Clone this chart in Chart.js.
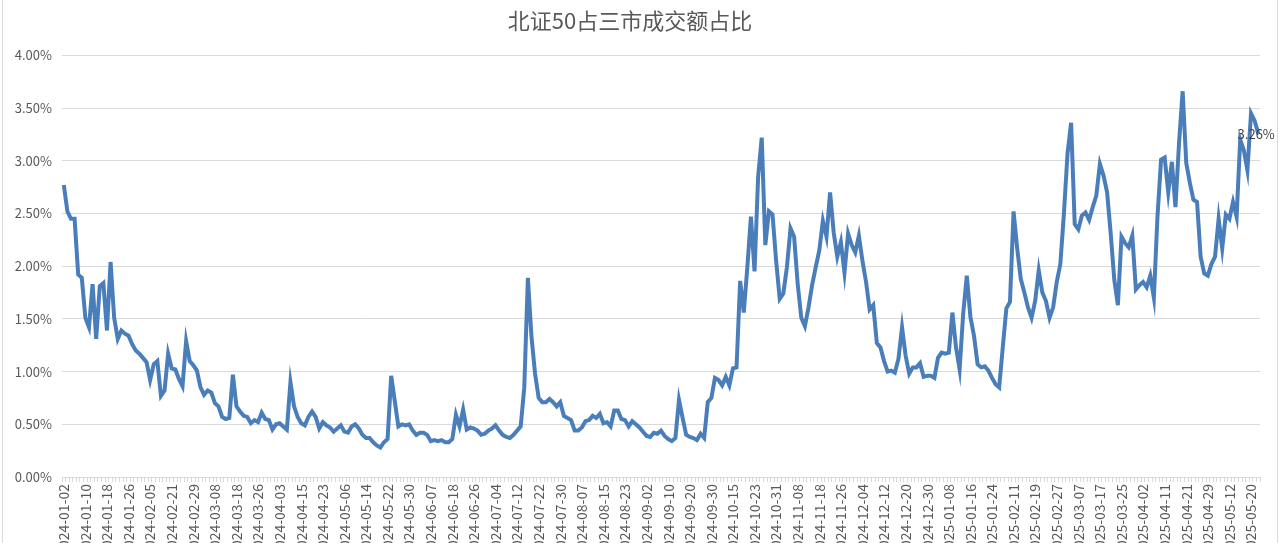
<!DOCTYPE html>
<html>
<head>
<meta charset="utf-8">
<title>北证50占三市成交额占比</title>
<script src="https://cdn.jsdelivr.net/npm/chart.js@4.4.1/dist/chart.umd.min.js"></script>
<style>
  html, body { margin: 0; padding: 0; background: #fff; overflow: hidden; }
  #frame { position: absolute; left: 2px; top: -2px; width: 1274px; height: 550px; border: 1px solid #d9d9d9; }
  #chart { position: absolute; left: 0; top: 0; }
</style>
</head>
<body>
<div id="frame"></div>
<canvas id="chart" width="1280" height="543"></canvas>
<script>
// trading calendar: weekdays from start to end, minus exchange holidays
const startDate = '2024-01-02';
const endDate = '2025-05-22';
const holidays = [
  '2024-01-01', '2024-02-09', '2024-02-12', '2024-02-13', '2024-02-14', '2024-02-15', '2024-02-16',
  '2024-04-04', '2024-04-05', '2024-05-01', '2024-05-02', '2024-05-03', '2024-06-10',
  '2024-09-16', '2024-09-17', '2024-10-01', '2024-10-02', '2024-10-03', '2024-10-04', '2024-10-07',
  '2025-01-01', '2025-01-28', '2025-01-29', '2025-01-30', '2025-01-31', '2025-02-03', '2025-02-04',
  '2025-04-04', '2025-05-01', '2025-05-02', '2025-05-05'
];
const labelStep = 6; // every 6th trading day gets a label

// 北证50成交额 / 三市成交额, %
const shareValues = [
  2.77, 2.52, 2.45, 2.45, 1.92, 1.89, 1.51, 1.42, 1.83, 1.31,
  1.81, 1.84, 1.39, 2.04, 1.51, 1.31, 1.39, 1.36, 1.34, 1.26,
  1.20, 1.17, 1.13, 1.09, 0.92, 1.07, 1.10, 0.77, 0.82, 1.17,
  1.03, 1.02, 0.93, 0.86, 1.29, 1.10, 1.06, 1.01, 0.85, 0.78,
  0.82, 0.80, 0.70, 0.67, 0.57, 0.55, 0.56, 0.97, 0.67, 0.62,
  0.58, 0.57, 0.51, 0.54, 0.52, 0.61, 0.55, 0.54, 0.45, 0.50,
  0.51, 0.48, 0.45, 0.90, 0.67, 0.57, 0.51, 0.49, 0.57, 0.62,
  0.57, 0.46, 0.52, 0.49, 0.47, 0.43, 0.46, 0.49, 0.43, 0.42,
  0.48, 0.50, 0.46, 0.40, 0.37, 0.37, 0.33, 0.30, 0.28, 0.33,
  0.36, 0.96, 0.72, 0.48, 0.50, 0.49, 0.50, 0.44, 0.40, 0.42,
  0.42, 0.40, 0.34, 0.35, 0.34, 0.35, 0.33, 0.33, 0.36, 0.59,
  0.48, 0.64, 0.45, 0.47, 0.46, 0.44, 0.40, 0.41, 0.44, 0.46,
  0.49, 0.44, 0.40, 0.38, 0.37, 0.40, 0.44, 0.48, 0.85, 1.89,
  1.33, 0.98, 0.75, 0.71, 0.71, 0.74, 0.71, 0.67, 0.71, 0.58,
  0.56, 0.54, 0.44, 0.44, 0.47, 0.53, 0.54, 0.58, 0.56, 0.60,
  0.51, 0.52, 0.48, 0.63, 0.63, 0.55, 0.54, 0.48, 0.53, 0.50,
  0.47, 0.43, 0.39, 0.38, 0.42, 0.41, 0.44, 0.39, 0.36, 0.34,
  0.37, 0.73, 0.56, 0.40, 0.38, 0.37, 0.35, 0.41, 0.37, 0.71,
  0.75, 0.94, 0.92, 0.87, 0.95, 0.87, 1.03, 1.04, 1.86, 1.56,
  1.99, 2.47, 1.95, 2.85, 3.22, 2.20, 2.52, 2.49, 2.05, 1.69,
  1.74, 1.99, 2.36, 2.28, 1.83, 1.51, 1.43, 1.61, 1.82, 1.99,
  2.15, 2.43, 2.28, 2.70, 2.32, 2.09, 2.23, 1.94, 2.31, 2.20,
  2.13, 2.29, 2.05, 1.85, 1.59, 1.63, 1.27, 1.23, 1.10, 1.00,
  1.01, 0.99, 1.12, 1.42, 1.15, 0.98, 1.04, 1.04, 1.08, 0.95,
  0.96, 0.96, 0.94, 1.13, 1.18, 1.17, 1.18, 1.56, 1.23, 1.02,
  1.55, 1.91, 1.52, 1.34, 1.07, 1.04, 1.05, 1.01, 0.94, 0.88,
  0.85, 1.23, 1.60, 1.66, 2.52, 2.17, 1.88, 1.75, 1.61, 1.51,
  1.67, 1.96, 1.75, 1.67, 1.51, 1.61, 1.85, 2.02, 2.50, 3.07,
  3.36, 2.40, 2.35, 2.48, 2.51, 2.44, 2.56, 2.67, 2.97, 2.86,
  2.70, 2.31, 1.87, 1.63, 2.28, 2.22, 2.18, 2.29, 1.78, 1.82,
  1.85, 1.80, 1.91, 1.70, 2.47, 3.01, 3.03, 2.70, 2.99, 2.56,
  3.17, 3.66, 2.98, 2.79, 2.63, 2.61, 2.09, 1.93, 1.91, 2.02,
  2.09, 2.45, 2.17, 2.49, 2.45, 2.61, 2.47, 3.20, 3.10, 2.91,
  3.45, 3.38, 3.26
];

const yTicks = { min: 0, max: 4, step: 0.5 };

function tradingDays(from, to, closed) {
  const out = [];
  const d = new Date(from + 'T00:00:00Z');
  const last = new Date(to + 'T00:00:00Z');
  while (d <= last) {
    const s = d.toISOString().slice(0, 10);
    const wd = d.getUTCDay();
    if (wd !== 0 && wd !== 6 && !closed.includes(s)) out.push(s);
    d.setUTCDate(d.getUTCDate() + 1);
  }
  return out;
}

const dates = tradingDays(startDate, endDate, holidays);

const grey = '#595959';
const gridGrey = '#d9d9d9';
const fontFamily = '"Noto Sans CJK SC", "Noto Sans", sans-serif';

// label on the last point, like the excel data label
const lastPointLabel = {
  id: 'lastPointLabel',
  afterDatasetsDraw(chart) {
    const meta = chart.getDatasetMeta(0);
    const i = meta.data.length - 1;
    const pt = meta.data[i];
    const c = chart.ctx;
    c.save();
    c.font = '13px ' + fontFamily;
    c.fillStyle = '#404040';
    c.textAlign = 'center';
    c.textBaseline = 'middle';
    c.fillText(shareValues[i].toFixed(2) + '%', pt.x - 2, pt.y + 1);
    c.restore();
  }
};

const ctx = document.getElementById('chart').getContext('2d');
const myChart = new Chart(ctx, {
  type: 'line',
  data: {
    labels: dates,
    datasets: [{
      label: '北证50占三市成交额占比',
      data: shareValues,
      borderColor: '#4a7ebb',
      borderWidth: 4,
      pointRadius: 0,
      tension: 0,
      fill: false
    }]
  },
  options: {
    responsive: false,
    animation: false,
    devicePixelRatio: 1,
    layout: { padding: { left: 0, right: 20, top: 0, bottom: 0 } },
    plugins: {
      legend: { display: false },
      tooltip: { enabled: false },
      title: {
        display: true,
        text: '北证50占三市成交额占比',
        color: grey,
        font: { family: fontFamily, size: 22, weight: 'normal' },
        padding: { top: 7, bottom: 22 }
      }
    },
    scales: {
      x: {
        offset: true,
        grid: { drawOnChartArea: false, color: gridGrey, tickLength: 5, offset: true },
        border: { color: gridGrey },
        ticks: {
          autoSkip: false,
          minRotation: 90,
          maxRotation: 90,
          padding: 2,
          color: grey,
          font: { family: fontFamily, size: 14 },
          callback: (v, i) => (i % labelStep === 0 ? dates[i] : '')
        },
        afterFit: s => { s.height = 543 - 477; }
      },
      y: {
        min: yTicks.min,
        max: yTicks.max,
        ticks: {
          stepSize: yTicks.step,
          color: grey,
          padding: 10,
          font: { family: fontFamily, size: 13 },
          callback: v => v.toFixed(2) + '%'
        },
        grid: { color: gridGrey, drawTicks: false },
        border: { display: false },
        afterFit: s => { s.width = 62; }
      }
    }
  },
  plugins: [lastPointLabel]
});
</script>
</body>
</html>
